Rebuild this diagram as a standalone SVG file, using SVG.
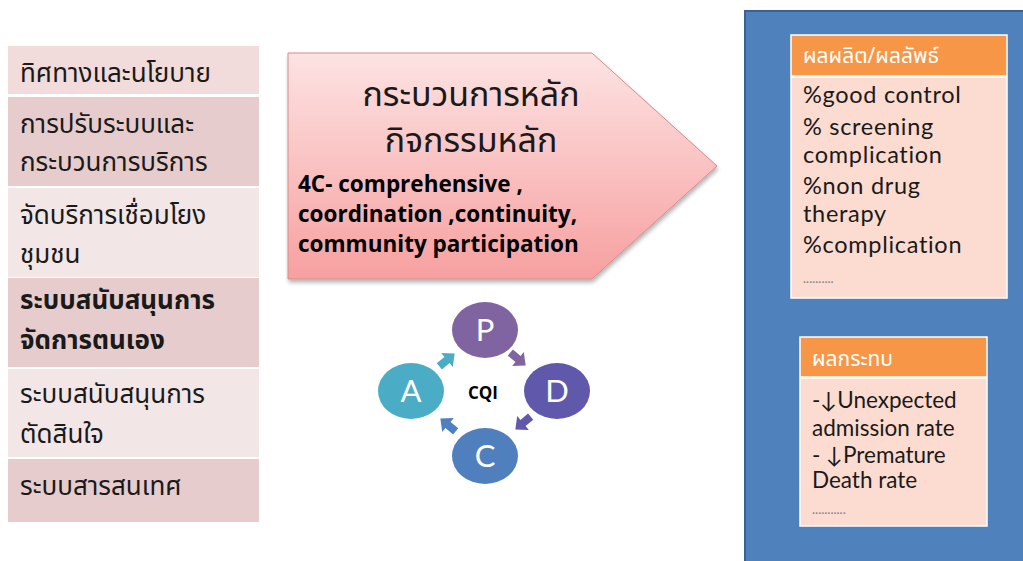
<svg xmlns="http://www.w3.org/2000/svg" width="1023" height="561" viewBox="0 0 1023 561">
<defs>
<linearGradient id="pg" x1="0" y1="0" x2="0" y2="1">
<stop offset="0" stop-color="#fde3e3"/>
<stop offset="1" stop-color="#f7a0a0"/>
</linearGradient>
<filter id="sh" x="-10%" y="-10%" width="130%" height="130%">
<feGaussianBlur in="SourceAlpha" stdDeviation="2"/>
<feOffset dx="1" dy="3" result="b"/>
<feComponentTransfer><feFuncA type="linear" slope="0.3"/></feComponentTransfer>
<feMerge><feMergeNode/><feMergeNode in="SourceGraphic"/></feMerge>
</filter>
<polygon id="blk" points="-10,-4 0,-4 0,-9 10,0 0,9 0,4 -10,4"/>
</defs>
<style>
.th{font-family:"Noto Sans Thai","Noto Sans","DejaVu Sans",sans-serif;font-size:26px;fill:#1a1a1a}
.ttl{font-size:34px;text-anchor:middle}
.thb{font-weight:bold}
.lbox{stroke:none}
.hd{fill:#f79646;stroke:#ffffff;stroke-width:1.5}
.bd{fill:#fcdcd0;stroke:#ffffff;stroke-width:1.5}
.ht{font-family:"Noto Sans Thai","Noto Sans","DejaVu Sans",sans-serif;font-size:21px;fill:#ffffff}
.en{font-family:Lato,"Liberation Sans",sans-serif;font-size:23.5px;letter-spacing:0.7px;fill:#1a1a1a}
.en2{font-family:Lato,"Liberation Sans",sans-serif;font-size:22.5px;fill:#1a1a1a}
.dots{font-family:Lato,sans-serif;font-size:13px;fill:#7f7f7f}
.bold4c{font-family:"Open Sans","Liberation Sans",sans-serif;font-weight:bold;font-size:22.5px;fill:#000}
.cl{font-family:Lato,"Liberation Sans",sans-serif;font-size:31px;fill:#ffffff;text-anchor:middle}
</style>
<rect width="1023" height="561" fill="#ffffff"/>

<g id="left-1"><rect class="lbox" x="8" y="46" width="251" height="48" fill="#f2dcdb"/>
<text class="th" x="20" y="82">ทิศทางและนโยบาย</text></g>
<g id="left-2"><rect class="lbox" x="8" y="97" width="251" height="89" fill="#e6cccc"/>
<text class="th" x="20" y="133">การปรับระบบและ</text>
<text class="th" x="20" y="171">กระบวนการบริการ</text></g>
<g id="left-3"><rect class="lbox" x="8" y="188" width="251" height="89" fill="#f2e6e6"/>
<text class="th" x="20" y="224">จัดบริการเชื่อมโยง</text>
<text class="th" x="20" y="263">ชุมชน</text></g>
<g id="left-4"><rect class="lbox" x="8" y="278" width="251" height="89" fill="#e6cccc"/>
<text class="th thb" x="20" y="309">ระบบสนับสนุนการ</text>
<text class="th thb" x="20" y="349">จัดการตนเอง</text></g>
<g id="left-5"><rect class="lbox" x="8" y="369" width="251" height="88" fill="#f2e6e6"/>
<text class="th" x="20" y="403">ระบบสนับสนุนการ</text>
<text class="th" x="20" y="443">ตัดสินใจ</text></g>
<g id="left-6"><rect class="lbox" x="8" y="459" width="251" height="63" fill="#e6cccc"/>
<text class="th" x="20" y="495">ระบบสารสนเทศ</text></g>

<g id="process">
<polygon points="288,53 592,53 717,166 592,279 288,279" fill="url(#pg)" stroke="#d48c8a" stroke-width="1" filter="url(#sh)"/>
<text class="th ttl" x="471" y="106">กระบวนการหลัก</text>
<text class="th ttl" x="471" y="152">กิจกรรมหลัก</text>
<text class="bold4c" x="298" y="192">4C- comprehensive ,</text>
<text class="bold4c" x="298" y="222">coordination ,continuity,</text>
<text class="bold4c" x="298" y="252">community participation</text>
</g>

<g id="cqi">
<text x="483" y="399" font-family="'Open Sans','Liberation Sans',sans-serif" font-weight="bold" font-size="17" text-anchor="middle" fill="#000">CQI</text>
</g>
<g id="node-P"><ellipse cx="485" cy="330" rx="33" ry="28" fill="#8064a2"/><text class="cl" x="485" y="341">P</text></g>
<g id="node-D"><ellipse cx="557" cy="391" rx="33" ry="28" fill="#5f58ab"/><text class="cl" x="557" y="402">D</text></g>
<g id="node-C"><ellipse cx="485" cy="456" rx="33" ry="28" fill="#4f7fbd"/><text class="cl" x="485" y="467">C</text></g>
<g id="node-A"><ellipse cx="411" cy="391" rx="33" ry="28" fill="#4bacc6"/><text class="cl" x="411" y="402">A</text></g>

<g id="connectors">
<use href="#blk" transform="translate(518,359) rotate(40)" fill="#8064a2"/>
<use href="#blk" transform="translate(523,423) rotate(140)" fill="#5f58ab"/>
<use href="#blk" transform="translate(448,425) rotate(-140)" fill="#4f7fbd"/>
<use href="#blk" transform="translate(447,360) rotate(-40)" fill="#4bacc6"/>
</g>

<g id="panel"><rect x="745" y="11" width="290" height="560" fill="#4f81bd" stroke="#3a6394" stroke-width="2"/></g>

<g id="outputs">
<rect class="hd" x="791" y="35" width="216" height="41"/>
<text class="ht" x="803" y="63">ผลผลิต/ผลลัพธ์</text>
<rect class="bd" x="791" y="77" width="216" height="221"/>
<text class="en" x="803" y="103">%good control</text>
<text class="en" x="803" y="135">% screening</text>
<text class="en" x="803" y="163">complication</text>
<text class="en" x="803" y="194">%non drug</text>
<text class="en" x="803" y="222">therapy</text>
<text class="en" x="803" y="253">%complication</text>
<text class="dots" x="803" y="283">..........</text>
</g>

<g id="impact">
<rect class="hd" x="800" y="337" width="187" height="40"/>
<text class="ht" x="812" y="366">ผลกระทบ</text>
<rect class="bd" x="800" y="378" width="187" height="148"/>
<text class="en2" x="812" y="408">-↓Unexpected</text>
<text class="en2" x="812" y="436">admission rate</text>
<text class="en2" x="812" y="463">- ↓Premature</text>
<text class="en2" x="812" y="488">Death rate</text>
<text class="dots" x="812" y="514">...........</text>
</g>
</svg>
